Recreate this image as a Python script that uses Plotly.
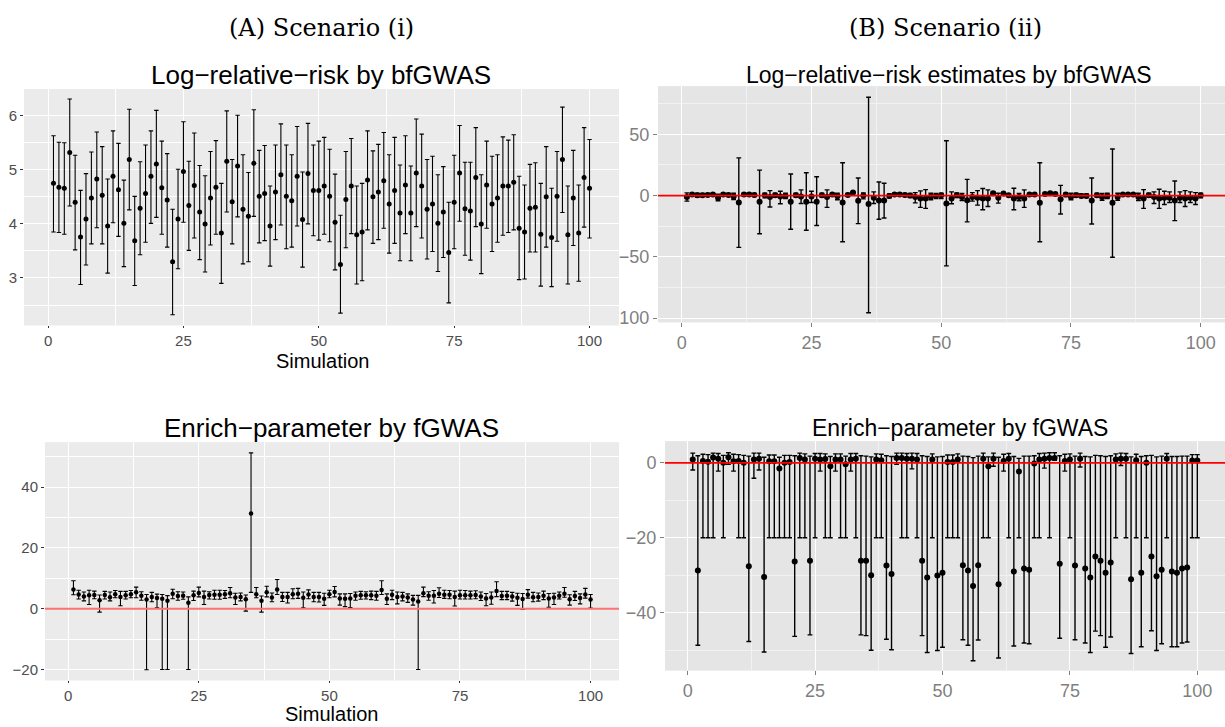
import numpy as np
import plotly.graph_objects as go

sim = list(range(1, 101))

# Panel A1: Log-relative-risk by bfGWAS (scenario i)
a1_est = [4.75,4.68,4.66,5.32,4.40,3.76,4.09,4.48,4.83,4.53,3.96,4.88,4.63,4.01,5.19,3.69,4.29,4.56,4.88,5.11,
          4.67,4.44,3.30,4.09,4.97,4.34,4.71,4.22,4.00,4.48,4.68,3.83,5.16,4.41,5.07,4.27,4.14,5.12,4.51,4.56,
          3.96,4.59,4.91,4.51,4.43,4.88,4.08,4.93,4.62,4.62,4.70,4.51,4.03,3.25,4.45,4.70,3.80,3.85,4.81,4.50,
          4.59,4.80,4.37,4.62,4.20,4.72,4.20,4.94,4.70,4.27,4.37,4.01,4.22,3.47,4.40,4.94,4.28,4.24,4.86,4.00,
          4.72,4.37,4.48,4.70,4.70,4.77,3.92,3.85,4.29,4.31,3.81,4.50,3.75,4.51,5.19,3.80,4.48,3.83,4.86,4.66]
a1_lo = [3.85,3.84,3.81,4.33,3.52,2.88,3.24,3.63,3.93,3.63,3.09,4.02,3.77,3.21,4.26,2.86,3.43,3.66,4.01,4.12,
         3.81,3.57,2.32,3.17,4.03,3.51,3.74,3.34,3.11,3.61,3.81,2.90,4.22,3.63,4.13,3.26,3.30,4.14,3.65,3.69,
         3.22,3.71,3.98,3.54,3.57,3.96,3.20,4.00,3.78,3.70,3.81,3.67,3.15,2.35,3.56,3.82,2.89,2.95,3.89,3.64,
         3.71,3.92,3.46,3.64,3.32,3.82,3.32,3.95,3.74,3.35,3.49,3.12,3.38,2.54,3.54,4.05,3.42,3.33,3.95,3.08,
         3.92,3.49,3.66,3.79,3.84,3.89,2.97,2.98,3.48,3.48,2.85,3.57,2.84,3.68,4.21,2.89,3.60,2.94,3.94,3.74]
a1_hi = [5.63,5.51,5.50,6.31,5.27,4.62,4.93,5.33,5.70,5.43,4.83,5.72,5.49,4.81,6.12,4.51,5.15,5.46,5.72,6.10,
         5.53,5.30,4.27,5.01,5.89,5.16,5.68,5.08,4.89,5.34,5.54,4.75,6.09,5.19,6.01,5.28,4.95,6.11,5.36,5.45,
         4.70,5.46,5.85,5.46,5.28,5.80,4.96,5.86,5.46,5.53,5.60,5.38,4.92,4.16,5.34,5.58,4.70,4.75,5.72,5.35,
         5.47,5.69,5.28,5.60,5.09,5.63,5.07,5.94,5.66,5.19,5.25,4.91,5.06,4.40,5.27,5.82,5.14,5.14,5.78,4.91,
         5.53,5.25,5.28,5.61,5.55,5.65,4.88,4.72,5.10,5.13,4.75,5.43,4.66,5.34,6.16,4.70,5.36,4.72,5.78,5.56]

# Panel A2: Enrich-parameter by fGWAS (scenario i)
a2_est = [6.3,4.7,4.0,4.4,4.5,2.8,4.5,3.8,4.8,3.9,4.4,4.8,5.4,4.3,3.0,3.9,3.5,3.3,2.6,4.9,
          4.2,4.3,2.0,4.4,5.2,3.9,4.5,4.6,4.6,4.8,5.1,3.7,3.9,3.1,31.3,4.8,2.6,5.4,3.7,6.3,
          3.9,3.9,4.8,4.9,3.6,4.7,3.9,3.9,3.3,4.8,5.5,3.4,3.3,3.4,4.3,4.4,4.4,4.4,4.3,6.2,
          3.3,4.6,3.9,4.0,3.7,3.0,2.4,5.1,4.3,4.3,4.9,4.6,4.6,3.9,4.4,4.4,4.4,4.5,4.0,3.4,
          3.7,5.8,4.2,4.3,4.0,3.6,3.2,4.6,3.8,3.9,4.3,3.4,3.7,4.3,4.9,3.1,4.2,3.5,4.7,3.0]
a2_lo = [4.6,3.2,2.6,1.4,3.3,-1.1,3.2,2.6,3.6,1.0,3.2,3.6,3.6,2.8,-20.1,2.3,0.3,-20.0,-20.0,3.3,
         2.8,3.1,-20.0,2.7,3.9,1.4,3.2,3.1,3.1,3.4,3.6,1.4,2.6,-0.8,5.4,3.6,-1.1,3.9,2.3,4.7,
         2.4,1.9,3.3,3.4,0.3,3.3,2.3,2.2,1.1,3.6,3.9,1.2,0.7,0.4,2.8,3.1,3.2,3.0,2.8,4.7,
         1.4,3.0,1.6,2.6,2.1,1.2,-20.0,4.0,2.8,1.9,3.7,3.4,3.3,0.9,3.2,3.2,3.2,3.3,2.7,1.0,
         1.5,4.0,3.0,3.0,2.5,1.1,-0.2,3.5,2.3,2.5,3.0,0.5,1.4,3.2,3.8,1.2,2.7,1.6,3.5,0.2]
a2_hi = [9.2,6.1,5.5,6.1,5.8,4.5,5.7,5.5,6.0,5.7,5.7,6.0,7.1,5.6,4.7,5.4,4.8,4.7,4.3,6.4,
         5.6,5.5,3.9,5.8,7.1,5.8,5.6,6.1,6.1,6.0,7.0,5.1,5.2,4.5,51.3,7.0,4.2,7.4,5.2,9.6,
         5.4,5.4,6.6,6.7,5.5,6.2,5.4,5.4,5.1,6.1,7.3,4.9,4.9,5.0,5.5,5.7,5.6,5.8,5.7,9.2,
         4.9,6.1,5.5,5.4,4.9,4.4,4.4,7.1,5.6,6.0,6.9,6.1,6.0,5.8,6.1,6.0,5.8,5.9,5.5,5.0,
         5.5,8.9,5.7,5.7,5.4,5.1,5.0,6.3,5.4,5.2,5.8,5.0,5.1,5.5,7.0,4.6,5.7,4.9,6.7,4.7]

# Panel B1: Log-relative-risk estimates by bfGWAS (scenario ii)
b1_est = [-1.3,0.8,0.3,0.3,0.5,0.8,-1.9,0.8,0.5,-0.8,-5.7,0.8,0.8,0.5,-5.1,0.3,-1.3,0.3,-0.8,-0.3,
          -5.1,0.3,-0.8,-5.1,-0.8,-5.1,0.3,-1.3,0.8,-0.5,-5.7,0.5,2.4,-4.3,0.0,-7.0,-1.9,-4.0,-4.0,-0.3,
          0.8,0.8,0.5,0.0,-1.3,-2.4,-2.4,-0.8,-0.3,0.3,-6.5,-2.4,0.3,-1.3,-3.8,-1.3,-1.9,-2.4,-2.4,1.9,
          -1.9,1.6,0.3,-2.4,-1.3,-2.4,0.8,0.8,-5.9,1.3,1.9,1.3,-3.0,0.8,-1.3,0.3,-0.3,-0.3,-4.0,0.3,
          -1.3,-0.3,-5.9,-1.3,0.8,0.8,0.8,-1.3,-2.4,0.3,-1.3,-2.4,-1.9,-1.9,-4.0,-1.9,-2.4,-1.9,-2.4,0.3]
b1_lo = [-4.6,-0.3,-1.3,-0.8,-0.5,-0.3,-4.3,-0.3,-0.5,-3.2,-42.3,-0.3,-0.3,-0.8,-31.2,-1.9,-9.4,-1.3,-6.7,-2.4,
         -27.5,-1.3,-6.5,-28.3,-5.7,-24.5,-1.3,-9.7,-0.3,-3.5,-37.7,-0.5,1.6,-22.9,-2.7,-95.6,-6.5,-19.4,-18.3,-1.9,
         -0.3,-0.3,-0.8,-1.6,-6.0,-9.7,-10.5,-3.5,-2.4,-2.4,-57.4,-6.7,-1.6,-4.0,-21.5,-4.6,-7.8,-11.6,-8.9,1.1,
         -6.2,0.8,-0.8,-11.6,-4.3,-9.7,-0.3,-0.3,-37.7,0.5,1.1,0.5,-15.1,-0.8,-3.5,-1.3,-1.6,-1.6,-23.2,-1.3,
         -3.8,-2.4,-50.3,-3.8,-0.3,-0.3,-0.3,-4.0,-10.5,-1.3,-6.5,-10.5,-7.3,-5.7,-20.5,-5.7,-8.9,-5.7,-7.3,-1.9]
b1_hi = [2.2,1.9,1.9,1.6,1.6,1.9,1.1,1.9,1.6,1.9,30.7,1.9,1.9,1.6,20.7,1.9,4.0,1.9,3.5,1.9,
         17.5,1.9,4.6,18.6,3.5,15.3,1.9,4.6,1.9,1.9,26.7,1.6,3.0,14.3,2.2,80.2,3.0,11.0,10.0,1.3,
         1.9,1.9,1.6,1.6,2.4,3.8,4.8,1.9,1.6,1.9,44.7,3.0,2.2,1.6,13.2,2.4,4.0,5.7,4.6,3.0,
         1.9,2.4,1.3,5.9,1.6,4.6,1.6,1.6,26.7,1.9,2.7,1.9,8.3,1.9,1.9,1.9,1.3,1.3,14.3,1.9,
         1.6,1.9,38.0,1.9,1.6,1.6,1.6,1.9,4.8,1.9,3.0,5.1,3.5,3.0,11.8,3.0,4.0,3.0,2.4,1.9]

# Panel B2: Enrich-parameter by fGWAS (scenario ii)
b2_est = [0.9,-28.7,0.5,0.3,1.4,1.1,0.0,1.5,0.4,0.5,0.0,-27.6,0.9,1.1,-30.5,0.4,0.4,-1.5,0.0,0.2,
          -26.3,1.3,0.9,-26.1,1.1,0.9,1.0,-0.9,0.9,0.9,-0.4,0.9,1.1,-26.1,-26.1,-30.0,0.9,0.7,-27.4,-29.7,
          1.3,1.3,1.1,1.1,0.9,-26.1,-30.6,0.9,-30.1,-29.3,0.2,0.2,0.9,-27.3,-28.7,-32.9,-27.3,1.1,-0.9,1.1,
          -32.4,0.5,1.1,-29.0,-2.3,-28.2,-28.5,-0.2,0.9,1.1,1.3,1.3,-26.9,0.5,0.9,-27.4,1.1,-28.2,-30.6,-25.0,
          -26.1,-29.3,-26.6,0.9,1.1,1.1,-31.1,0.7,-29.3,0.0,-25.0,-30.3,-28.5,1.1,-29.0,-29.3,-28.2,-27.9,0.6,0.6]
b2_lo = [-1.9,-48.7,-20,-20,-20,-2.2,-20,-0.4,-2.2,-20,-20,-47.7,-4.1,-1.9,-50.5,-20,-20,-20,-20,-20,
         -46.3,-20,-20,-45.9,-20,-2.2,-20,-20,-2.2,-20,-20,-2.2,-20,-45.9,-46.1,-50.0,-20,-20,-47.1,-49.9,
         -0.4,-20,-20,-1.6,-20,-46.1,-50.6,-20,-50.1,-49.2,-20,-20,-20,-47.2,-48.7,-52.8,-47.3,-20,-20,-0.9,
         -52.1,-2.2,-20,-48.9,-20,-48.1,-48.3,-20,-20,-1.4,-20,0.7,-46.8,-2.2,-20,-47.2,-1.1,-48.1,-50.6,-44.9,
         -46.1,-49.2,-46.5,-20,-0.7,-20,-50.9,-20,-49.1,-20,-44.8,-50.1,-48.3,-20,-49.1,-49.1,-48.1,-47.8,-20,-20]
b2_hi = [2.6,1.9,2.3,2.2,2.6,2.5,2.0,2.7,2.3,2.2,2.0,1.8,2.6,2.6,1.5,2.1,2.1,1.5,2.0,2.0,
         1.9,2.6,2.4,1.8,2.5,2.5,2.4,1.7,2.4,2.4,1.8,2.5,2.5,1.9,1.8,1.6,2.4,2.3,1.9,1.7,
         2.6,2.6,2.5,2.6,2.5,1.9,1.7,2.4,1.6,1.7,2.1,2.1,2.4,1.8,1.7,1.4,1.8,2.6,1.6,2.6,
         1.5,2.3,2.5,1.7,1.2,1.8,1.8,1.9,2.5,2.6,2.7,2.7,1.9,2.3,2.4,1.8,2.6,1.7,1.6,2.0,
         1.9,1.7,1.9,2.4,2.6,2.5,1.6,2.3,1.7,1.9,2.0,1.6,1.8,2.5,1.7,1.7,1.8,1.8,2.2,2.2]

W, H = 1225, 727
fig = go.Figure()


def add_panel(est, lo, hi, xa, ya, msize, thick, capw):
    est = np.array(est, float)
    lo = np.array(lo, float)
    hi = np.array(hi, float)
    fig.add_trace(go.Scatter(
        x=sim, y=est, mode="markers", xaxis=xa, yaxis=ya,
        marker=dict(color="black", size=msize),
        error_y=dict(type="data", symmetric=False, array=hi - est, arrayminus=est - lo,
                     color="black", thickness=thick, width=capw),
        hoverinfo="skip", showlegend=False))


add_panel(a1_est, a1_lo, a1_hi, "x", "y", 5, 1.1, 2.2)
add_panel(a2_est, a2_lo, a2_hi, "x2", "y2", 4.5, 1.1, 2.2)
add_panel(b1_est, b1_lo, b1_hi, "x3", "y3", 6, 1.4, 2.4)
add_panel(b2_est, b2_lo, b2_hi, "x4", "y4", 6, 1.4, 2.4)


def dom_x(a, b):
    return [a / W, min(b / W, 1.0)]


def dom_y(top, bot):
    return [1 - bot / H, 1 - top / H]


newfont = dict(family="Liberation Sans, Arial, sans-serif", size=15, color="#4D4D4D")
oldfont = dict(family="Liberation Sans, Arial, sans-serif", size=18, color="#7F7F7F")


def ax_new(domain, rng, tickvals, minorvals, anchor, ticktext=None, tlen=3):
    d = dict(domain=domain, range=rng, tickmode="array", tickvals=tickvals,
             showgrid=True, gridcolor="white", gridwidth=1.1, zeroline=False,
             ticks="outside", ticklen=tlen, tickcolor="#333333", tickwidth=1,
             tickfont=newfont, anchor=anchor, showline=False,
             minor=dict(tickmode="array", tickvals=minorvals, showgrid=True,
                        gridcolor="white", gridwidth=0.5))
    if ticktext is not None:
        d["ticktext"] = ticktext
    return d


def ax_old(domain, rng, tickvals, minorvals, anchor, ticktext=None):
    d = dict(domain=domain, range=rng, tickmode="array", tickvals=tickvals,
             showgrid=True, gridcolor="white", gridwidth=1.2, zeroline=False,
             ticks="outside", ticklen=4, tickcolor="#7F7F7F", tickwidth=1,
             tickfont=oldfont, anchor=anchor, showline=False,
             minor=dict(tickmode="array", tickvals=minorvals, showgrid=True,
                        gridcolor="#F2F2F2", gridwidth=0.8))
    if ticktext is not None:
        d["ticktext"] = ticktext
    return d


xt = [0, 25, 50, 75, 100]
xm = [12.5, 37.5, 62.5, 87.5]

fig.update_layout(
    width=W, height=H, margin=dict(l=0, r=0, t=0, b=0),
    paper_bgcolor="white", plot_bgcolor="#EBEBEB", showlegend=False,
    xaxis=ax_new(dom_x(24, 619), [-4.445, 105.445], xt, xm, "y", tlen=2),
    yaxis=ax_new(dom_y(90, 328), [2.125, 6.49], [3, 4, 5, 6], [2.5, 3.5, 4.5, 5.5], "x"),
    xaxis2=ax_new(dom_x(45, 619), [-4.445, 105.445], xt, xm, "y2", tlen=2),
    yaxis2=ax_new(dom_y(446, 686), [-23.56, 54.76], [-20, 0, 20, 40], [-10, 10, 30, 50], "x2",
                  ticktext=["\u221220", "0", "20", "40"]),
    xaxis3=ax_old(dom_x(658, 1225), [-4.57, 104.68], xt, xm, "y3"),
    yaxis3=ax_old(dom_y(87, 325), [-103.4, 89.1], [-100, -50, 0, 50], [-75, -25, 25, 75], "x3",
                  ticktext=["100", "\u221250", "0", "50"]),
    xaxis4=ax_old(dom_x(665, 1225), [-4.445, 105.43], xt, xm, "y4"),
    yaxis4=ax_old(dom_y(445, 676), [-55.4, 5.74], [-40, -20, 0], [-50, -30, -10], "x4",
                  ticktext=["\u221240", "\u221220", "0"]),
)

# per-panel backgrounds
panel_bg = [("x domain", "y domain", "#EBEBEB"), ("x2 domain", "y2 domain", "#EBEBEB"),
            ("x3 domain", "y3 domain", "#E5E5E5"), ("x4 domain", "y4 domain", "#E5E5E5")]
for xr, yr, col in panel_bg:
    fig.add_shape(type="rect", xref=xr, yref=yr, x0=0, x1=1, y0=0, y1=1,
                  fillcolor=col, line=dict(width=0), layer="below")

# reference lines at zero
fig.add_shape(type="line", xref="x2 domain", yref="y2", x0=0, x1=1, y0=0, y1=0,
              line=dict(color="#FF7070", width=2), layer="above")
fig.add_shape(type="line", xref="x3 domain", yref="y3", x0=0, x1=1, y0=0, y1=0,
              line=dict(color="#FF0000", width=1.8), layer="above")
fig.add_shape(type="line", xref="x4 domain", yref="y4", x0=0, x1=1, y0=0, y1=0,
              line=dict(color="#FF0000", width=1.8), layer="above")

sans = "Liberation Sans, Arial, sans-serif"
serif = "DejaVu Serif, serif"


def txt(text, x, y, size, family=sans, color="black"):
    fig.add_annotation(text=text, x=x / W, y=1 - y / H, xref="paper", yref="paper",
                       xanchor="center", yanchor="middle", showarrow=False, borderpad=0,
                       font=dict(family=family, size=size, color=color))


txt("(A) Scenario (i)", 321, 28, 24, serif)
txt("(B) Scenario (ii)", 945, 28, 24, serif)
txt("Log\u2212relative\u2212risk by bfGWAS", 321, 76, 26)
txt("Log\u2212relative\u2212risk estimates by bfGWAS", 949, 76, 23)
txt("Simulation", 322, 364, 20)
txt("Enrich\u2212parameter by fGWAS", 332, 432, 26)
txt("Enrich\u2212parameter by fGWAS", 960, 432, 23)
txt("Simulation", 332, 720, 20)

fig.write_html("out.html")
